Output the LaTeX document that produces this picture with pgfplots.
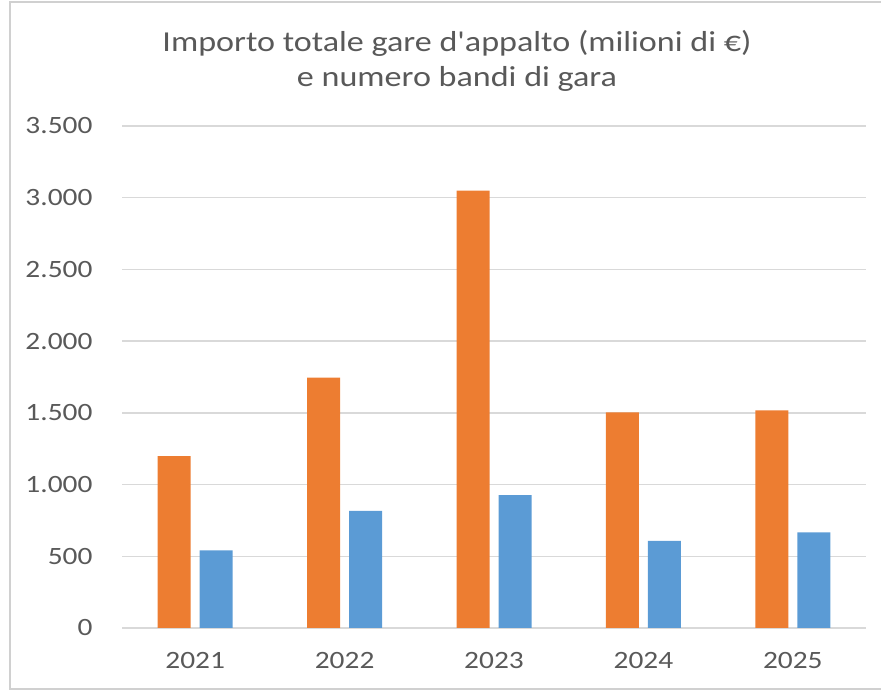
\documentclass[border=0pt]{standalone}
\usepackage{pgfplots}
\pgfplotsset{compat=1.18}
\usepackage{fontspec}
\setmainfont{Carlito}[Ligatures=TeXOff, FakeStretch=1.18]
\definecolor{xorange}{HTML}{ED7D31}
\definecolor{xblue}{HTML}{5B9BD5}
\definecolor{xtext}{HTML}{595959}
\definecolor{xgrid}{HTML}{D9D9D9}
\definecolor{xframe}{HTML}{D0D0D0}
\begin{document}
\begin{tikzpicture}[x=1bp,y=1bp]
\useasboundingbox (0,0) rectangle (881,691);
\draw[xframe, line width=2bp] (881,689) -- (10,689) -- (10,2) -- (881,2);
\begin{axis}[
  at={(122bp,63bp)}, anchor=south west,
  scale only axis, width=744bp, height=502bp,
  xmin=-0.49, xmax=4.49, ymin=0, ymax=3500,
  axis line style={draw=none},
  ytick={0,500,...,3500},
  ymajorgrids, grid style={xgrid, line width=1.3bp},
  xtick={0,1,2,3,4},
  xticklabels={2021,2022,2023,2024,2025},
  major tick length=0pt,
  tick label style={font=\fontsize{25}{30}\selectfont, text=xtext},
  /pgf/number format/assume math mode=true,
  /pgf/number format/.cd, 1000 sep={.}, /pgfplots/.cd,
  yticklabel style={anchor=east, xshift=-26bp},
  xticklabel style={yshift=-21bp},
  ybar, bar width=33bp,
  clip=false,
]
\addplot[fill=xorange, draw=none, bar shift=-21bp] coordinates {(0,1199) (1,1745) (2,3049) (3,1504) (4,1518)};
\addplot[fill=xblue, draw=none, bar shift=21bp] coordinates {(0,541) (1,816) (2,927) (3,607) (4,667)};
\end{axis}
\node[text=xtext, align=center, font=\fontsize{29}{35}\selectfont] at (457,630) {Importo totale gare d'appalto (milioni di €)\\e numero bandi di gara};
\end{tikzpicture}
\end{document}
